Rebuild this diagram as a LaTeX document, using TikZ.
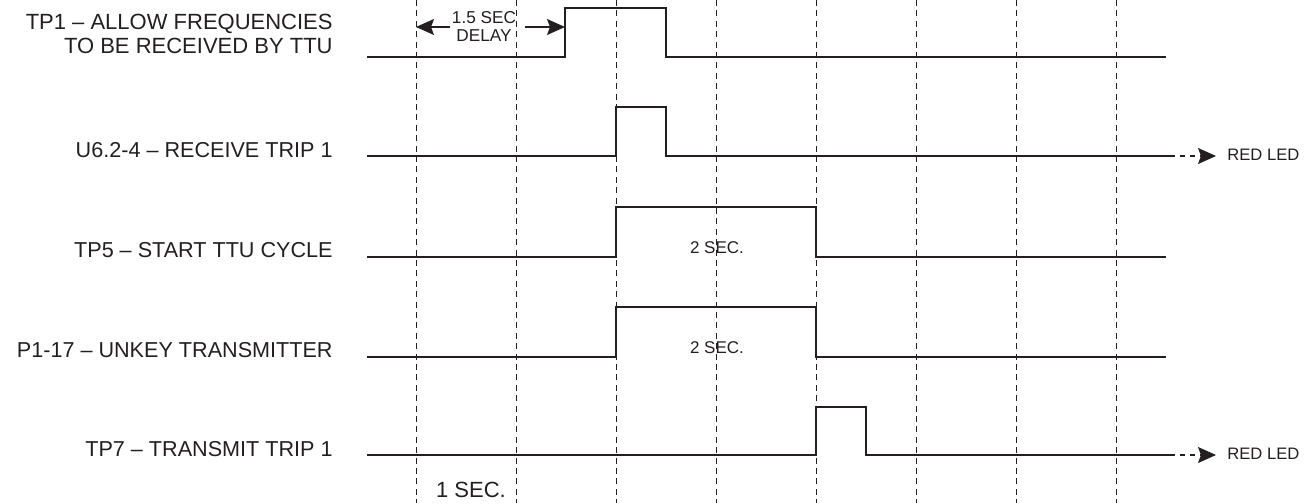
\documentclass[tikz,border=0pt]{standalone}
\usepackage{fontspec}
\setmainfont{Liberation Sans}
\usetikzlibrary{arrows.meta, positioning}
\definecolor{ink}{HTML}{231F20}
\tikzstyle{signal} = [line width=0.75pt, draw=ink]
\tikzstyle{divider} = [line width=0.5pt, draw=ink, dash pattern=on 3pt off 2.2pt]
\tikzstyle{signame} = [anchor=east, align=right, font=\fontsize{10.8}{12.5}\selectfont, text=ink, inner sep=0pt]
\tikzstyle{duration} = [font=\fontsize{8.5}{10}\selectfont, text=ink, inner sep=0pt]
\tikzstyle{arrow} = [line width=0.6pt, draw=ink, -{Stealth[length=9pt,width=8pt,inset=1.5pt]}]
\tikzstyle{ledarrow} = [line width=0.6pt, draw=ink, dash pattern=on 2.5pt off 2.5pt, -{Stealth[length=9pt,width=8pt,inset=1.5pt]}]

\begin{document}
\begin{tikzpicture}[x=0.5pt, y=-0.5pt]
        \useasboundingbox (0,0) rectangle (1309,503);
        % one second time divisions
        \foreach \t in {416,516,...,1116}
            \draw[divider] (\t,0) -- (\t,503);

        % signal names
        \node[signame, font=\fontsize{11}{12.3}\selectfont] (tp1) at (333,34) {TP1 -- ALLOW FREQUENCIES\\TO BE RECEIVED BY TTU};
        \node[signame] (u6) at (333,150) {U6.2-4 -- RECEIVE TRIP 1};
        \node[signame] (tp5) at (333,250) {TP5 -- START TTU CYCLE};
        \node[signame] (p117) at (333,350) {P1-17 -- UNKEY TRANSMITTER};
        \node[signame] (tp7) at (333,449) {TP7 -- TRANSMIT TRIP 1};

        % waveforms
        \draw[signal] (367,57) -- (565,57) -- (565,8) -- (666,8) -- (666,57) -- (1166,57);
        \draw[signal] (367,156) -- (616,156) -- (616,107) -- (666,107) -- (666,156) -- (1170,156);
        \draw[signal] (367,257) -- (616,257) -- (616,207) -- (816,207) -- (816,257) -- (1166,257);
        \draw[signal] (367,357) -- (616,357) -- (616,307) -- (816,307) -- (816,357) -- (1166,357);
        \draw[signal] (367,455) -- (816,455) -- (816,407) -- (866,407) -- (866,455) -- (1170,455);

        % durations
        \node[duration, align=center, font=\fontsize{8.6}{9}\selectfont] (delay) at (484,26) {1.5 SEC\\DELAY};
        \coordinate (delaystart) at (416,27);
        \coordinate (delayend) at (565,27);
        \draw[arrow] (delay.west) ++(-2,1) -- (delaystart);
        \draw[arrow] (delay.east) ++(9,1) -- (delayend);
        \node[duration] (cycle) at (717,248) {2 SEC.};
        \node[duration] (unkey) at (717,348) {2 SEC.};
        \node[duration, font=\fontsize{11}{12}\selectfont] (onesec) at (471,490) {1 SEC.};

        % outputs to led
        \coordinate (rx) at (1170,156);
        \coordinate (tx) at (1170,455);
        \node[duration, font=\fontsize{8.3}{9}\selectfont, anchor=west] (rxled) at (1227,155) {RED LED};
        \node[duration, font=\fontsize{8.3}{9}\selectfont, anchor=west] (txled) at (1227,454) {RED LED};
        \draw[ledarrow] (rx) -- ++(46,0);
        \draw[ledarrow] (tx) -- ++(46,0);
\end{tikzpicture}
\end{document}
